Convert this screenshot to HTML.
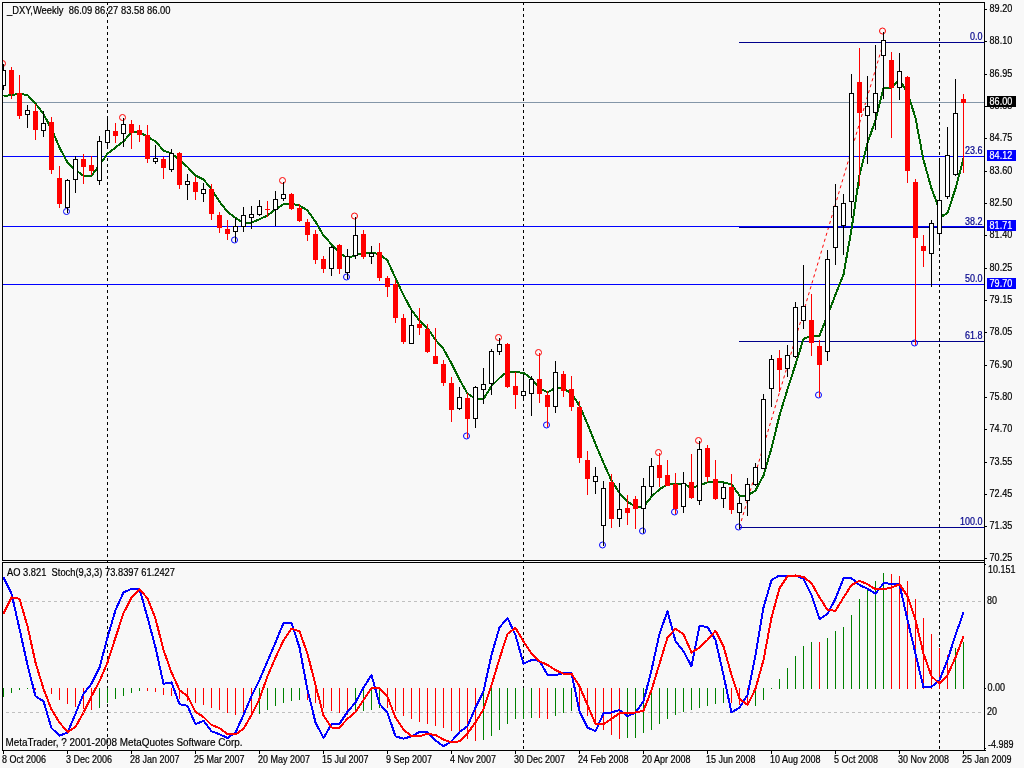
<!DOCTYPE html><html><head><meta charset="utf-8"><title>_DXY,Weekly</title>
<style>html,body{margin:0;padding:0;background:#F8F8F8;overflow:hidden}svg{display:block;will-change:transform}text{font-family:"Liberation Sans",Arial,sans-serif;font-size:9px;fill:#000;stroke:#000;stroke-width:.18px}.w{fill:#fff;stroke:#fff}.nv{fill:#00008B;stroke:#00008B}</style></head><body>
<svg width="1024" height="768" viewBox="0 0 1024 768">
<rect x="0" y="0" width="1024" height="768" fill="#F8F8F8"/>
<line x1="739.5" y1="527" x2="883.5" y2="42.5" stroke="#FF0000" stroke-width="1" stroke-dasharray="3.1 3.1"/>
<g shape-rendering="crispEdges">
<line x1="107.5" y1="2" x2="107.5" y2="751" stroke="#000" stroke-width="1" stroke-dasharray="3 3"/>
<line x1="523.5" y1="2" x2="523.5" y2="751" stroke="#000" stroke-width="1" stroke-dasharray="3 3"/>
<line x1="939.5" y1="2" x2="939.5" y2="751" stroke="#000" stroke-width="1" stroke-dasharray="3 3"/>
<rect x="3" y="102" width="981" height="1" fill="#8496A8"/>
<rect x="739" y="42" width="245" height="1" fill="#00008B"/>
<rect x="739" y="156" width="245" height="1" fill="#00008B"/>
<rect x="739" y="227" width="245" height="1" fill="#00008B"/>
<rect x="739" y="284" width="245" height="1" fill="#00008B"/>
<rect x="739" y="341" width="245" height="1" fill="#00008B"/>
<rect x="739" y="527" width="245" height="1" fill="#00008B"/>
<rect x="3" y="156" width="981" height="1" fill="#0000FF"/>
<rect x="3" y="226" width="981" height="1" fill="#0000FF"/>
<rect x="3" y="284" width="981" height="1" fill="#0000FF"/>
<line x1="0" y1="601.5" x2="984" y2="601.5" stroke="#C0C0C0" stroke-width="1" stroke-dasharray="3 3"/>
<line x1="0" y1="712.5" x2="984" y2="712.5" stroke="#C0C0C0" stroke-width="1" stroke-dasharray="3 3"/>
</g>
<polyline points="3.5,96.25 11.5,95 19.5,93.75 27.5,95 35.5,103.5 43.5,114 51.5,129 59.5,147.5 67.5,162.5 75.5,170 83.5,175.75 91.5,175.75 99.5,165 107.5,153.75 115.5,147.5 123.5,141.25 131.5,132.5 139.5,131.75 147.5,137 155.5,141.25 163.5,150.5 171.5,153.5 179.5,160 187.5,167 195.5,175.5 203.5,179.5 211.5,189 219.5,201.75 227.5,211.75 235.5,218 243.5,223 251.5,222.5 259.5,219.25 267.5,215.5 275.5,209.25 283.5,204.25 291.5,203.75 299.5,205.5 307.5,210.5 315.5,221.75 323.5,235.5 331.5,244.25 339.5,253 347.5,258 355.5,255.5 363.5,252.5 371.5,252.5 379.5,254.25 387.5,260.5 395.5,278.25 403.5,295 411.5,310 419.5,320.5 427.5,328.5 435.5,339.75 443.5,349 451.5,363.5 459.5,379.75 467.5,393.5 475.5,399 483.5,399 491.5,386 499.5,378 507.5,371.5 515.5,372.25 523.5,372.75 531.5,378.5 539.5,388.5 547.5,392.25 555.5,388 563.5,388.5 571.5,393.5 579.5,405.75 587.5,424 595.5,444 603.5,463 611.5,480.5 619.5,493 627.5,501.75 635.5,506.75 643.5,506.75 651.5,496.75 659.5,489.25 667.5,484.25 675.5,483.75 683.5,483.75 691.5,488 699.5,485.5 707.5,482.25 715.5,481.75 723.5,482.5 731.5,484.25 739.5,495.5 747.5,495.5 755.5,490.5 763.5,475.5 771.5,448 779.5,415.5 787.5,389.25 795.5,364.5 803.5,339 811.5,335.75 819.5,335.75 827.5,315.5 835.5,294.5 843.5,274.5 851.5,229.5 859.5,175 867.5,143 875.5,120 883.5,88 891.5,87.5 899.5,80 907.5,92.5 915.5,118 923.5,160 931.5,188.5 939.5,210 942.5,216 947.5,213 955.5,188.5 963.5,158.5" fill="none" stroke="#006400" stroke-width="2" stroke-linejoin="round" shape-rendering="crispEdges"/>
<circle cx="2.5" cy="63.5" r="3" fill="none" stroke="#FF0000" stroke-width="1"/>
<circle cx="122.5" cy="117.5" r="3" fill="none" stroke="#FF0000" stroke-width="1"/>
<circle cx="282.5" cy="180.5" r="3" fill="none" stroke="#FF0000" stroke-width="1"/>
<circle cx="354.5" cy="216" r="3" fill="none" stroke="#FF0000" stroke-width="1"/>
<circle cx="498.5" cy="337.5" r="3" fill="none" stroke="#FF0000" stroke-width="1"/>
<circle cx="538.5" cy="352.5" r="3" fill="none" stroke="#FF0000" stroke-width="1"/>
<circle cx="658.5" cy="452.5" r="3" fill="none" stroke="#FF0000" stroke-width="1"/>
<circle cx="698.5" cy="440.5" r="3" fill="none" stroke="#FF0000" stroke-width="1"/>
<circle cx="882.5" cy="31" r="3" fill="none" stroke="#FF0000" stroke-width="1"/>
<circle cx="66.5" cy="211.5" r="3" fill="none" stroke="#0000FF" stroke-width="1"/>
<circle cx="234.5" cy="240" r="3" fill="none" stroke="#0000FF" stroke-width="1"/>
<circle cx="346.5" cy="277" r="3" fill="none" stroke="#0000FF" stroke-width="1"/>
<circle cx="466.5" cy="436" r="3" fill="none" stroke="#0000FF" stroke-width="1"/>
<circle cx="546.5" cy="425" r="3" fill="none" stroke="#0000FF" stroke-width="1"/>
<circle cx="602.5" cy="545" r="3" fill="none" stroke="#0000FF" stroke-width="1"/>
<circle cx="642.5" cy="531" r="3" fill="none" stroke="#0000FF" stroke-width="1"/>
<circle cx="674.5" cy="512" r="3" fill="none" stroke="#0000FF" stroke-width="1"/>
<circle cx="738.5" cy="527" r="3" fill="none" stroke="#0000FF" stroke-width="1"/>
<circle cx="818.5" cy="395" r="3" fill="none" stroke="#0000FF" stroke-width="1"/>
<circle cx="914.5" cy="343" r="3" fill="none" stroke="#0000FF" stroke-width="1"/>
<g shape-rendering="crispEdges">
<rect x="3" y="64" width="1" height="26" fill="#000"/>
<rect x="1" y="70" width="5" height="16" fill="#000"/>
<rect x="2" y="71" width="3" height="14" fill="#fff"/>
<rect x="11" y="67" width="1" height="32" fill="#FF0000"/>
<rect x="9" y="70" width="5" height="24" fill="#FF0000"/>
<rect x="19" y="75" width="1" height="44" fill="#FF0000"/>
<rect x="17" y="93" width="5" height="23" fill="#FF0000"/>
<rect x="27" y="105" width="1" height="23" fill="#000"/>
<rect x="25" y="110" width="5" height="5" fill="#000"/>
<rect x="26" y="111" width="3" height="3" fill="#fff"/>
<rect x="35" y="104" width="1" height="36" fill="#FF0000"/>
<rect x="33" y="111" width="5" height="19" fill="#FF0000"/>
<rect x="43" y="111" width="1" height="26" fill="#000"/>
<rect x="41" y="123" width="5" height="8" fill="#000"/>
<rect x="42" y="124" width="3" height="6" fill="#fff"/>
<rect x="51" y="117" width="1" height="57" fill="#FF0000"/>
<rect x="49" y="122" width="5" height="48" fill="#FF0000"/>
<rect x="59" y="166" width="1" height="42" fill="#FF0000"/>
<rect x="57" y="178" width="5" height="26" fill="#FF0000"/>
<rect x="67" y="179" width="1" height="34" fill="#000"/>
<rect x="65" y="180" width="5" height="28" fill="#000"/>
<rect x="66" y="181" width="3" height="26" fill="#fff"/>
<rect x="75" y="156" width="1" height="37" fill="#000"/>
<rect x="73" y="159" width="5" height="21" fill="#000"/>
<rect x="74" y="160" width="3" height="19" fill="#fff"/>
<rect x="83" y="154" width="1" height="30" fill="#FF0000"/>
<rect x="81" y="159" width="5" height="8" fill="#FF0000"/>
<rect x="91" y="156" width="1" height="19" fill="#FF0000"/>
<rect x="89" y="165" width="5" height="6" fill="#FF0000"/>
<rect x="99" y="136" width="1" height="49" fill="#000"/>
<rect x="97" y="141" width="5" height="40" fill="#000"/>
<rect x="98" y="142" width="3" height="38" fill="#fff"/>
<rect x="107" y="116" width="1" height="33" fill="#000"/>
<rect x="105" y="130" width="5" height="13" fill="#000"/>
<rect x="106" y="131" width="3" height="11" fill="#fff"/>
<rect x="115" y="123" width="1" height="20" fill="#FF0000"/>
<rect x="113" y="131" width="5" height="5" fill="#FF0000"/>
<rect x="123" y="118" width="1" height="29" fill="#000"/>
<rect x="121" y="124" width="5" height="10" fill="#000"/>
<rect x="122" y="125" width="3" height="8" fill="#fff"/>
<rect x="131" y="120" width="1" height="29" fill="#FF0000"/>
<rect x="129" y="124" width="5" height="9" fill="#FF0000"/>
<rect x="139" y="125" width="1" height="17" fill="#FF0000"/>
<rect x="137" y="130" width="5" height="5" fill="#FF0000"/>
<rect x="147" y="125" width="1" height="38" fill="#FF0000"/>
<rect x="145" y="135" width="5" height="24" fill="#FF0000"/>
<rect x="155" y="145" width="1" height="19" fill="#000"/>
<rect x="153" y="158" width="5" height="4" fill="#000"/>
<rect x="154" y="159" width="3" height="2" fill="#fff"/>
<rect x="163" y="157" width="1" height="22" fill="#FF0000"/>
<rect x="161" y="159" width="5" height="9" fill="#FF0000"/>
<rect x="171" y="149" width="1" height="23" fill="#000"/>
<rect x="169" y="153" width="5" height="17" fill="#000"/>
<rect x="170" y="154" width="3" height="15" fill="#fff"/>
<rect x="179" y="152" width="1" height="37" fill="#FF0000"/>
<rect x="177" y="153" width="5" height="32" fill="#FF0000"/>
<rect x="187" y="174" width="1" height="26" fill="#000"/>
<rect x="185" y="181" width="5" height="4" fill="#000"/>
<rect x="186" y="182" width="3" height="2" fill="#fff"/>
<rect x="195" y="177" width="1" height="23" fill="#FF0000"/>
<rect x="193" y="182" width="5" height="10" fill="#FF0000"/>
<rect x="203" y="183" width="1" height="19" fill="#000"/>
<rect x="201" y="189" width="5" height="5" fill="#000"/>
<rect x="202" y="190" width="3" height="3" fill="#fff"/>
<rect x="211" y="184" width="1" height="36" fill="#FF0000"/>
<rect x="209" y="189" width="5" height="25" fill="#FF0000"/>
<rect x="219" y="212" width="1" height="21" fill="#FF0000"/>
<rect x="217" y="215" width="5" height="13" fill="#FF0000"/>
<rect x="227" y="220" width="1" height="20" fill="#FF0000"/>
<rect x="225" y="229" width="5" height="5" fill="#FF0000"/>
<rect x="235" y="218" width="1" height="24" fill="#000"/>
<rect x="233" y="226" width="5" height="6" fill="#000"/>
<rect x="234" y="227" width="3" height="4" fill="#fff"/>
<rect x="243" y="207" width="1" height="25" fill="#000"/>
<rect x="241" y="215" width="5" height="12" fill="#000"/>
<rect x="242" y="216" width="3" height="10" fill="#fff"/>
<rect x="251" y="206" width="1" height="23" fill="#000"/>
<rect x="249" y="214" width="5" height="4" fill="#000"/>
<rect x="250" y="215" width="3" height="2" fill="#fff"/>
<rect x="259" y="200" width="1" height="16" fill="#000"/>
<rect x="257" y="206" width="5" height="9" fill="#000"/>
<rect x="258" y="207" width="3" height="7" fill="#fff"/>
<rect x="267" y="201" width="1" height="16" fill="#FF0000"/>
<rect x="265" y="209" width="5" height="1" fill="#FF0000"/>
<rect x="275" y="191" width="1" height="35" fill="#000"/>
<rect x="273" y="199" width="5" height="11" fill="#000"/>
<rect x="274" y="200" width="3" height="9" fill="#fff"/>
<rect x="283" y="182" width="1" height="19" fill="#000"/>
<rect x="281" y="194" width="5" height="5" fill="#000"/>
<rect x="282" y="195" width="3" height="3" fill="#fff"/>
<rect x="291" y="193" width="1" height="17" fill="#FF0000"/>
<rect x="289" y="194" width="5" height="15" fill="#FF0000"/>
<rect x="299" y="204" width="1" height="18" fill="#FF0000"/>
<rect x="297" y="208" width="5" height="13" fill="#FF0000"/>
<rect x="307" y="219" width="1" height="22" fill="#FF0000"/>
<rect x="305" y="222" width="5" height="13" fill="#FF0000"/>
<rect x="315" y="230" width="1" height="34" fill="#FF0000"/>
<rect x="313" y="234" width="5" height="26" fill="#FF0000"/>
<rect x="323" y="256" width="1" height="17" fill="#FF0000"/>
<rect x="321" y="259" width="5" height="10" fill="#FF0000"/>
<rect x="331" y="246" width="1" height="30" fill="#000"/>
<rect x="329" y="247" width="5" height="22" fill="#000"/>
<rect x="330" y="248" width="3" height="20" fill="#fff"/>
<rect x="339" y="244" width="1" height="30" fill="#FF0000"/>
<rect x="337" y="245" width="5" height="24" fill="#FF0000"/>
<rect x="347" y="249" width="1" height="30" fill="#000"/>
<rect x="345" y="256" width="5" height="17" fill="#000"/>
<rect x="346" y="257" width="3" height="15" fill="#fff"/>
<rect x="355" y="217" width="1" height="42" fill="#000"/>
<rect x="353" y="235" width="5" height="21" fill="#000"/>
<rect x="354" y="236" width="3" height="19" fill="#fff"/>
<rect x="363" y="230" width="1" height="29" fill="#FF0000"/>
<rect x="361" y="234" width="5" height="23" fill="#FF0000"/>
<rect x="371" y="246" width="1" height="18" fill="#000"/>
<rect x="369" y="253" width="5" height="4" fill="#000"/>
<rect x="370" y="254" width="3" height="2" fill="#fff"/>
<rect x="379" y="243" width="1" height="38" fill="#FF0000"/>
<rect x="377" y="252" width="5" height="26" fill="#FF0000"/>
<rect x="387" y="276" width="1" height="21" fill="#FF0000"/>
<rect x="385" y="278" width="5" height="9" fill="#FF0000"/>
<rect x="395" y="280" width="1" height="43" fill="#FF0000"/>
<rect x="393" y="284" width="5" height="34" fill="#FF0000"/>
<rect x="403" y="314" width="1" height="30" fill="#FF0000"/>
<rect x="401" y="318" width="5" height="24" fill="#FF0000"/>
<rect x="411" y="310" width="1" height="34" fill="#000"/>
<rect x="409" y="325" width="5" height="19" fill="#000"/>
<rect x="410" y="326" width="3" height="17" fill="#fff"/>
<rect x="419" y="308" width="1" height="27" fill="#FF0000"/>
<rect x="417" y="324" width="5" height="4" fill="#FF0000"/>
<rect x="427" y="324" width="1" height="29" fill="#FF0000"/>
<rect x="425" y="329" width="5" height="23" fill="#FF0000"/>
<rect x="435" y="328" width="1" height="36" fill="#FF0000"/>
<rect x="433" y="356" width="5" height="8" fill="#FF0000"/>
<rect x="443" y="360" width="1" height="26" fill="#FF0000"/>
<rect x="441" y="364" width="5" height="19" fill="#FF0000"/>
<rect x="451" y="377" width="1" height="45" fill="#FF0000"/>
<rect x="449" y="383" width="5" height="27" fill="#FF0000"/>
<rect x="459" y="387" width="1" height="23" fill="#000"/>
<rect x="457" y="397" width="5" height="12" fill="#000"/>
<rect x="458" y="398" width="3" height="10" fill="#fff"/>
<rect x="467" y="393" width="1" height="45" fill="#FF0000"/>
<rect x="465" y="398" width="5" height="21" fill="#FF0000"/>
<rect x="475" y="386" width="1" height="42" fill="#000"/>
<rect x="473" y="387" width="5" height="32" fill="#000"/>
<rect x="474" y="388" width="3" height="30" fill="#fff"/>
<rect x="483" y="368" width="1" height="36" fill="#000"/>
<rect x="481" y="384" width="5" height="6" fill="#000"/>
<rect x="482" y="385" width="3" height="4" fill="#fff"/>
<rect x="491" y="349" width="1" height="46" fill="#000"/>
<rect x="489" y="351" width="5" height="33" fill="#000"/>
<rect x="490" y="352" width="3" height="31" fill="#fff"/>
<rect x="499" y="338" width="1" height="17" fill="#000"/>
<rect x="497" y="344" width="5" height="8" fill="#000"/>
<rect x="498" y="345" width="3" height="6" fill="#fff"/>
<rect x="507" y="343" width="1" height="45" fill="#FF0000"/>
<rect x="505" y="344" width="5" height="43" fill="#FF0000"/>
<rect x="515" y="372" width="1" height="37" fill="#FF0000"/>
<rect x="513" y="386" width="5" height="9" fill="#FF0000"/>
<rect x="523" y="374" width="1" height="27" fill="#000"/>
<rect x="521" y="391" width="5" height="5" fill="#000"/>
<rect x="522" y="392" width="3" height="3" fill="#fff"/>
<rect x="531" y="376" width="1" height="40" fill="#000"/>
<rect x="529" y="379" width="5" height="15" fill="#000"/>
<rect x="530" y="380" width="3" height="13" fill="#fff"/>
<rect x="539" y="353" width="1" height="50" fill="#FF0000"/>
<rect x="537" y="379" width="5" height="15" fill="#FF0000"/>
<rect x="547" y="391" width="1" height="36" fill="#FF0000"/>
<rect x="545" y="395" width="5" height="12" fill="#FF0000"/>
<rect x="555" y="361" width="1" height="52" fill="#000"/>
<rect x="553" y="372" width="5" height="35" fill="#000"/>
<rect x="554" y="373" width="3" height="33" fill="#fff"/>
<rect x="563" y="371" width="1" height="26" fill="#FF0000"/>
<rect x="561" y="374" width="5" height="17" fill="#FF0000"/>
<rect x="571" y="376" width="1" height="35" fill="#FF0000"/>
<rect x="569" y="389" width="5" height="18" fill="#FF0000"/>
<rect x="579" y="401" width="1" height="62" fill="#FF0000"/>
<rect x="577" y="407" width="5" height="51" fill="#FF0000"/>
<rect x="587" y="451" width="1" height="44" fill="#FF0000"/>
<rect x="585" y="460" width="5" height="19" fill="#FF0000"/>
<rect x="595" y="467" width="1" height="27" fill="#000"/>
<rect x="593" y="476" width="5" height="6" fill="#000"/>
<rect x="594" y="477" width="3" height="4" fill="#fff"/>
<rect x="603" y="481" width="1" height="65" fill="#000"/>
<rect x="601" y="488" width="5" height="38" fill="#000"/>
<rect x="602" y="489" width="3" height="36" fill="#fff"/>
<rect x="611" y="474" width="1" height="54" fill="#FF0000"/>
<rect x="609" y="482" width="5" height="37" fill="#FF0000"/>
<rect x="619" y="483" width="1" height="44" fill="#000"/>
<rect x="617" y="509" width="5" height="10" fill="#000"/>
<rect x="618" y="510" width="3" height="8" fill="#fff"/>
<rect x="627" y="495" width="1" height="30" fill="#FF0000"/>
<rect x="625" y="508" width="5" height="5" fill="#FF0000"/>
<rect x="635" y="496" width="1" height="33" fill="#FF0000"/>
<rect x="633" y="499" width="5" height="10" fill="#FF0000"/>
<rect x="643" y="478" width="1" height="55" fill="#000"/>
<rect x="641" y="486" width="5" height="23" fill="#000"/>
<rect x="642" y="487" width="3" height="21" fill="#fff"/>
<rect x="651" y="458" width="1" height="38" fill="#000"/>
<rect x="649" y="466" width="5" height="21" fill="#000"/>
<rect x="650" y="467" width="3" height="19" fill="#fff"/>
<rect x="659" y="453" width="1" height="34" fill="#FF0000"/>
<rect x="657" y="465" width="5" height="13" fill="#FF0000"/>
<rect x="667" y="460" width="1" height="26" fill="#FF0000"/>
<rect x="665" y="475" width="5" height="11" fill="#FF0000"/>
<rect x="675" y="473" width="1" height="41" fill="#FF0000"/>
<rect x="673" y="484" width="5" height="25" fill="#FF0000"/>
<rect x="683" y="472" width="1" height="41" fill="#000"/>
<rect x="681" y="483" width="5" height="24" fill="#000"/>
<rect x="682" y="484" width="3" height="22" fill="#fff"/>
<rect x="691" y="454" width="1" height="45" fill="#FF0000"/>
<rect x="689" y="482" width="5" height="16" fill="#FF0000"/>
<rect x="699" y="441" width="1" height="64" fill="#000"/>
<rect x="697" y="449" width="5" height="52" fill="#000"/>
<rect x="698" y="450" width="3" height="50" fill="#fff"/>
<rect x="707" y="445" width="1" height="37" fill="#FF0000"/>
<rect x="705" y="448" width="5" height="29" fill="#FF0000"/>
<rect x="715" y="460" width="1" height="40" fill="#FF0000"/>
<rect x="713" y="479" width="5" height="20" fill="#FF0000"/>
<rect x="723" y="483" width="1" height="25" fill="#000"/>
<rect x="721" y="487" width="5" height="12" fill="#000"/>
<rect x="722" y="488" width="3" height="10" fill="#fff"/>
<rect x="731" y="474" width="1" height="40" fill="#FF0000"/>
<rect x="729" y="487" width="5" height="23" fill="#FF0000"/>
<rect x="739" y="497" width="1" height="32" fill="#000"/>
<rect x="737" y="503" width="5" height="10" fill="#000"/>
<rect x="738" y="504" width="3" height="8" fill="#fff"/>
<rect x="747" y="478" width="1" height="38" fill="#000"/>
<rect x="745" y="484" width="5" height="17" fill="#000"/>
<rect x="746" y="485" width="3" height="15" fill="#fff"/>
<rect x="755" y="463" width="1" height="23" fill="#000"/>
<rect x="753" y="467" width="5" height="18" fill="#000"/>
<rect x="754" y="468" width="3" height="16" fill="#fff"/>
<rect x="763" y="394" width="1" height="75" fill="#000"/>
<rect x="761" y="399" width="5" height="70" fill="#000"/>
<rect x="762" y="400" width="3" height="68" fill="#fff"/>
<rect x="771" y="355" width="1" height="52" fill="#000"/>
<rect x="769" y="359" width="5" height="30" fill="#000"/>
<rect x="770" y="360" width="3" height="28" fill="#fff"/>
<rect x="779" y="350" width="1" height="42" fill="#FF0000"/>
<rect x="777" y="358" width="5" height="12" fill="#FF0000"/>
<rect x="787" y="345" width="1" height="32" fill="#000"/>
<rect x="785" y="355" width="5" height="14" fill="#000"/>
<rect x="786" y="356" width="3" height="12" fill="#fff"/>
<rect x="795" y="302" width="1" height="56" fill="#000"/>
<rect x="793" y="307" width="5" height="50" fill="#000"/>
<rect x="794" y="308" width="3" height="48" fill="#fff"/>
<rect x="803" y="265" width="1" height="64" fill="#000"/>
<rect x="801" y="306" width="5" height="15" fill="#000"/>
<rect x="802" y="307" width="3" height="13" fill="#fff"/>
<rect x="811" y="294" width="1" height="62" fill="#FF0000"/>
<rect x="809" y="320" width="5" height="23" fill="#FF0000"/>
<rect x="819" y="340" width="1" height="57" fill="#FF0000"/>
<rect x="817" y="346" width="5" height="19" fill="#FF0000"/>
<rect x="827" y="250" width="1" height="111" fill="#000"/>
<rect x="825" y="259" width="5" height="93" fill="#000"/>
<rect x="826" y="260" width="3" height="91" fill="#fff"/>
<rect x="835" y="184" width="1" height="81" fill="#000"/>
<rect x="833" y="206" width="5" height="42" fill="#000"/>
<rect x="834" y="207" width="3" height="40" fill="#fff"/>
<rect x="843" y="194" width="1" height="61" fill="#000"/>
<rect x="841" y="203" width="5" height="23" fill="#000"/>
<rect x="842" y="204" width="3" height="21" fill="#fff"/>
<rect x="851" y="74" width="1" height="144" fill="#000"/>
<rect x="849" y="93" width="5" height="109" fill="#000"/>
<rect x="850" y="94" width="3" height="107" fill="#fff"/>
<rect x="859" y="48" width="1" height="138" fill="#FF0000"/>
<rect x="857" y="82" width="5" height="31" fill="#FF0000"/>
<rect x="867" y="76" width="1" height="88" fill="#000"/>
<rect x="865" y="106" width="5" height="10" fill="#000"/>
<rect x="866" y="107" width="3" height="8" fill="#fff"/>
<rect x="875" y="45" width="1" height="85" fill="#000"/>
<rect x="873" y="93" width="5" height="20" fill="#000"/>
<rect x="874" y="94" width="3" height="18" fill="#fff"/>
<rect x="883" y="32" width="1" height="67" fill="#000"/>
<rect x="881" y="40" width="5" height="16" fill="#000"/>
<rect x="882" y="41" width="3" height="14" fill="#fff"/>
<rect x="891" y="52" width="1" height="86" fill="#FF0000"/>
<rect x="889" y="60" width="5" height="28" fill="#FF0000"/>
<rect x="899" y="53" width="1" height="47" fill="#000"/>
<rect x="897" y="71" width="5" height="17" fill="#000"/>
<rect x="898" y="72" width="3" height="15" fill="#fff"/>
<rect x="907" y="76" width="1" height="107" fill="#FF0000"/>
<rect x="905" y="77" width="5" height="94" fill="#FF0000"/>
<rect x="915" y="179" width="1" height="166" fill="#FF0000"/>
<rect x="913" y="182" width="5" height="56" fill="#FF0000"/>
<rect x="923" y="235" width="1" height="32" fill="#FF0000"/>
<rect x="921" y="246" width="5" height="5" fill="#FF0000"/>
<rect x="931" y="220" width="1" height="67" fill="#000"/>
<rect x="929" y="223" width="5" height="31" fill="#000"/>
<rect x="930" y="224" width="3" height="29" fill="#fff"/>
<rect x="939" y="158" width="1" height="85" fill="#000"/>
<rect x="937" y="200" width="5" height="34" fill="#000"/>
<rect x="938" y="201" width="3" height="32" fill="#fff"/>
<rect x="947" y="127" width="1" height="72" fill="#000"/>
<rect x="945" y="155" width="5" height="42" fill="#000"/>
<rect x="946" y="156" width="3" height="40" fill="#fff"/>
<rect x="955" y="79" width="1" height="97" fill="#000"/>
<rect x="953" y="113" width="5" height="62" fill="#000"/>
<rect x="954" y="114" width="3" height="60" fill="#fff"/>
<rect x="963" y="94" width="1" height="79" fill="#FF0000"/>
<rect x="961" y="99" width="5" height="4" fill="#FF0000"/>
<rect x="3" y="688" width="1" height="9" fill="#008000"/>
<rect x="11" y="688" width="1" height="5" fill="#008000"/>
<rect x="19" y="688" width="1" height="2" fill="#008000"/>
<rect x="27" y="688" width="1" height="1" fill="#008000"/>
<rect x="35" y="688" width="1" height="2" fill="#FF0000"/>
<rect x="43" y="688" width="1" height="2" fill="#FF0000"/>
<rect x="51" y="688" width="1" height="6" fill="#FF0000"/>
<rect x="59" y="688" width="1" height="12" fill="#FF0000"/>
<rect x="67" y="688" width="1" height="16" fill="#FF0000"/>
<rect x="75" y="688" width="1" height="19" fill="#FF0000"/>
<rect x="83" y="688" width="1" height="21" fill="#FF0000"/>
<rect x="91" y="688" width="1" height="22" fill="#FF0000"/>
<rect x="99" y="688" width="1" height="20" fill="#008000"/>
<rect x="107" y="688" width="1" height="15" fill="#008000"/>
<rect x="115" y="688" width="1" height="11" fill="#008000"/>
<rect x="123" y="688" width="1" height="8" fill="#008000"/>
<rect x="131" y="688" width="1" height="5" fill="#008000"/>
<rect x="139" y="688" width="1" height="3" fill="#008000"/>
<rect x="147" y="688" width="1" height="3" fill="#FF0000"/>
<rect x="155" y="688" width="1" height="4" fill="#FF0000"/>
<rect x="163" y="688" width="1" height="7" fill="#FF0000"/>
<rect x="171" y="688" width="1" height="8" fill="#FF0000"/>
<rect x="179" y="688" width="1" height="11" fill="#FF0000"/>
<rect x="187" y="688" width="1" height="13" fill="#FF0000"/>
<rect x="195" y="688" width="1" height="15" fill="#FF0000"/>
<rect x="203" y="688" width="1" height="17" fill="#FF0000"/>
<rect x="211" y="688" width="1" height="20" fill="#FF0000"/>
<rect x="219" y="688" width="1" height="22" fill="#FF0000"/>
<rect x="227" y="688" width="1" height="25" fill="#FF0000"/>
<rect x="235" y="688" width="1" height="27" fill="#FF0000"/>
<rect x="243" y="688" width="1" height="28" fill="#FF0000"/>
<rect x="251" y="688" width="1" height="25" fill="#FF0000"/>
<rect x="259" y="688" width="1" height="26" fill="#008000"/>
<rect x="267" y="688" width="1" height="22" fill="#008000"/>
<rect x="275" y="688" width="1" height="18" fill="#008000"/>
<rect x="283" y="688" width="1" height="15" fill="#008000"/>
<rect x="291" y="688" width="1" height="13" fill="#008000"/>
<rect x="299" y="688" width="1" height="12" fill="#008000"/>
<rect x="307" y="688" width="1" height="12" fill="#FF0000"/>
<rect x="315" y="688" width="1" height="15" fill="#FF0000"/>
<rect x="323" y="688" width="1" height="20" fill="#FF0000"/>
<rect x="331" y="688" width="1" height="23" fill="#FF0000"/>
<rect x="339" y="688" width="1" height="25" fill="#FF0000"/>
<rect x="347" y="688" width="1" height="27" fill="#FF0000"/>
<rect x="355" y="688" width="1" height="23" fill="#008000"/>
<rect x="363" y="688" width="1" height="23" fill="#008000"/>
<rect x="371" y="688" width="1" height="22" fill="#008000"/>
<rect x="379" y="688" width="1" height="20" fill="#008000"/>
<rect x="387" y="688" width="1" height="20" fill="#FF0000"/>
<rect x="395" y="688" width="1" height="23" fill="#FF0000"/>
<rect x="403" y="688" width="1" height="28" fill="#FF0000"/>
<rect x="411" y="688" width="1" height="31" fill="#FF0000"/>
<rect x="419" y="688" width="1" height="34" fill="#FF0000"/>
<rect x="427" y="688" width="1" height="36" fill="#FF0000"/>
<rect x="435" y="688" width="1" height="38" fill="#FF0000"/>
<rect x="443" y="688" width="1" height="40" fill="#FF0000"/>
<rect x="451" y="688" width="1" height="43" fill="#FF0000"/>
<rect x="459" y="688" width="1" height="45" fill="#FF0000"/>
<rect x="467" y="688" width="1" height="51" fill="#FF0000"/>
<rect x="475" y="688" width="1" height="53" fill="#FF0000"/>
<rect x="483" y="688" width="1" height="52" fill="#008000"/>
<rect x="491" y="688" width="1" height="48" fill="#008000"/>
<rect x="499" y="688" width="1" height="42" fill="#008000"/>
<rect x="507" y="688" width="1" height="36" fill="#008000"/>
<rect x="515" y="688" width="1" height="31" fill="#008000"/>
<rect x="523" y="688" width="1" height="31" fill="#008000"/>
<rect x="531" y="688" width="1" height="30" fill="#008000"/>
<rect x="539" y="688" width="1" height="30" fill="#FF0000"/>
<rect x="547" y="688" width="1" height="31" fill="#FF0000"/>
<rect x="555" y="688" width="1" height="28" fill="#008000"/>
<rect x="563" y="688" width="1" height="25" fill="#008000"/>
<rect x="571" y="688" width="1" height="23" fill="#008000"/>
<rect x="579" y="688" width="1" height="25" fill="#FF0000"/>
<rect x="587" y="688" width="1" height="28" fill="#FF0000"/>
<rect x="595" y="688" width="1" height="35" fill="#FF0000"/>
<rect x="603" y="688" width="1" height="42" fill="#FF0000"/>
<rect x="611" y="688" width="1" height="47" fill="#FF0000"/>
<rect x="619" y="688" width="1" height="51" fill="#FF0000"/>
<rect x="627" y="688" width="1" height="50" fill="#008000"/>
<rect x="635" y="688" width="1" height="50" fill="#008000"/>
<rect x="643" y="688" width="1" height="45" fill="#008000"/>
<rect x="651" y="688" width="1" height="42" fill="#008000"/>
<rect x="659" y="688" width="1" height="36" fill="#008000"/>
<rect x="667" y="688" width="1" height="31" fill="#008000"/>
<rect x="675" y="688" width="1" height="27" fill="#008000"/>
<rect x="683" y="688" width="1" height="24" fill="#008000"/>
<rect x="691" y="688" width="1" height="22" fill="#008000"/>
<rect x="699" y="688" width="1" height="20" fill="#008000"/>
<rect x="707" y="688" width="1" height="18" fill="#008000"/>
<rect x="715" y="688" width="1" height="16" fill="#008000"/>
<rect x="723" y="688" width="1" height="15" fill="#008000"/>
<rect x="731" y="688" width="1" height="15" fill="#FF0000"/>
<rect x="739" y="688" width="1" height="17" fill="#FF0000"/>
<rect x="747" y="688" width="1" height="17" fill="#FF0000"/>
<rect x="755" y="688" width="1" height="18" fill="#008000"/>
<rect x="763" y="688" width="1" height="12" fill="#008000"/>
<rect x="771" y="688" width="1" height="1" fill="#008000"/>
<rect x="779" y="679" width="1" height="10" fill="#008000"/>
<rect x="787" y="668" width="1" height="21" fill="#008000"/>
<rect x="795" y="656" width="1" height="33" fill="#008000"/>
<rect x="803" y="646" width="1" height="43" fill="#008000"/>
<rect x="811" y="642" width="1" height="47" fill="#008000"/>
<rect x="819" y="642" width="1" height="47" fill="#FF0000"/>
<rect x="827" y="638" width="1" height="51" fill="#008000"/>
<rect x="835" y="631" width="1" height="58" fill="#008000"/>
<rect x="843" y="627" width="1" height="62" fill="#008000"/>
<rect x="851" y="615" width="1" height="74" fill="#008000"/>
<rect x="859" y="599" width="1" height="90" fill="#008000"/>
<rect x="867" y="588" width="1" height="101" fill="#008000"/>
<rect x="875" y="581" width="1" height="108" fill="#008000"/>
<rect x="883" y="573" width="1" height="116" fill="#008000"/>
<rect x="891" y="574" width="1" height="115" fill="#FF0000"/>
<rect x="899" y="576" width="1" height="113" fill="#FF0000"/>
<rect x="907" y="581" width="1" height="108" fill="#FF0000"/>
<rect x="915" y="599" width="1" height="90" fill="#FF0000"/>
<rect x="923" y="618" width="1" height="71" fill="#FF0000"/>
<rect x="931" y="634" width="1" height="55" fill="#FF0000"/>
<rect x="939" y="648" width="1" height="41" fill="#FF0000"/>
<rect x="947" y="655" width="1" height="34" fill="#FF0000"/>
<rect x="955" y="648" width="1" height="41" fill="#008000"/>
<rect x="963" y="642" width="1" height="47" fill="#008000"/>
</g>
<polyline points="3.5,577.5 11.5,593.75 19.5,628.75 27.5,665 35.5,696.25 43.5,701.25 51.5,728 59.5,735.75 67.5,732.5 75.5,713.75 83.5,693.75 91.5,683.75 99.5,667.5 107.5,637.5 115.5,610 123.5,592.5 131.5,588.75 139.5,588.75 147.5,617.5 155.5,647.5 163.5,683.75 171.5,682.5 179.5,704.25 187.5,705.75 195.5,724.25 203.5,720.75 211.5,731.25 219.5,734.25 227.5,738 235.5,732.5 243.5,715 251.5,696.25 259.5,680 267.5,661.25 275.5,642.5 283.5,623 291.5,623 299.5,647.5 307.5,690 315.5,722.5 323.5,738 331.5,724.25 339.5,723.75 347.5,711.75 355.5,702.5 363.5,687.5 371.5,675 379.5,703.75 387.5,713 395.5,736.25 403.5,738.75 411.5,736.25 419.5,732 427.5,732 435.5,740.5 443.5,746.25 451.5,741.25 459.5,732 467.5,726.25 475.5,707.5 483.5,691.25 491.5,655 499.5,627.5 507.5,618 515.5,635 523.5,663.75 531.5,660 539.5,660.75 547.5,675 555.5,675 563.5,673.25 571.5,673.25 579.5,711.25 587.5,727.5 595.5,731.25 603.5,713.25 611.5,712.5 619.5,710 627.5,716.25 635.5,712.5 643.5,701.25 651.5,670 659.5,633.75 667.5,611.25 675.5,641.25 683.5,651.25 691.5,666.25 699.5,625.75 707.5,627 715.5,640 723.5,675 731.5,712.5 739.5,707.5 747.5,695 755.5,655 763.5,607.5 771.5,580 779.5,575.5 787.5,575.5 795.5,575.5 803.5,578.75 811.5,595 819.5,619.25 827.5,613.75 835.5,598.75 843.5,578.25 851.5,578.25 859.5,585 867.5,588.75 875.5,593.75 883.5,583.25 891.5,583.75 899.5,584.5 907.5,620 915.5,653.75 923.5,687.5 931.5,686.75 939.5,680 947.5,660 955.5,635 963.5,612.5" fill="none" stroke="#0000FF" stroke-width="2" stroke-linejoin="round" shape-rendering="crispEdges"/>
<polyline points="3.5,613.75 11.5,597.5 19.5,598.75 27.5,626.25 35.5,662.5 43.5,688.75 51.5,709.5 59.5,722.5 67.5,732 75.5,727 83.5,712.5 91.5,696.25 99.5,681.25 107.5,662.5 115.5,637.5 123.5,613.25 131.5,597.5 139.5,589.5 147.5,598.25 155.5,618.75 163.5,650 171.5,672.5 179.5,690 187.5,696.25 195.5,711.75 203.5,717 211.5,725 219.5,728 227.5,734.25 235.5,734.5 243.5,728.75 251.5,715 259.5,698.75 267.5,676.25 275.5,657.5 283.5,640.5 291.5,628.75 299.5,631.25 307.5,653.75 315.5,685 323.5,715.5 331.5,727.5 339.5,727.5 347.5,718.75 355.5,712 363.5,700 371.5,688.25 379.5,688.25 387.5,697 395.5,717.5 403.5,729.5 411.5,736.25 419.5,736.25 427.5,733.75 435.5,735 443.5,739.5 451.5,742.5 459.5,741.25 467.5,733.25 475.5,722.5 483.5,709.25 491.5,685 499.5,658.75 507.5,633.75 515.5,628 523.5,641.25 531.5,653.75 539.5,661.25 547.5,665 555.5,670 563.5,673.75 571.5,673.75 579.5,686.25 587.5,705 595.5,723.75 603.5,724.25 611.5,718.75 619.5,713.25 627.5,713 635.5,712.5 643.5,710.75 651.5,690 659.5,663.75 667.5,637.5 675.5,628.75 683.5,634.25 691.5,652.5 699.5,647.5 707.5,640 715.5,630.75 723.5,646.25 731.5,675 739.5,698.75 747.5,705 755.5,688.75 763.5,660 771.5,617.5 779.5,588.25 787.5,576.25 795.5,575.5 803.5,577 811.5,583 819.5,597.5 827.5,610 835.5,610.75 843.5,597.5 851.5,585 859.5,580.75 867.5,584.25 875.5,589.25 883.5,589.25 891.5,587.5 899.5,584.25 907.5,596.25 915.5,620 923.5,653.75 931.5,676.25 939.5,683.75 947.5,675 955.5,657.5 963.5,636.25" fill="none" stroke="#FF0000" stroke-width="2" stroke-linejoin="round" shape-rendering="crispEdges"/>
<g shape-rendering="crispEdges">
<rect x="0" y="0" width="2" height="768" fill="#F8F8F8"/>
<rect x="985" y="0" width="39" height="768" fill="#F8F8F8"/>
<rect x="2" y="2" width="983" height="1" fill="#000"/>
<rect x="2" y="2" width="1" height="559" fill="#000"/>
<rect x="2" y="560" width="983" height="1" fill="#000"/>
<rect x="984" y="2" width="1" height="749" fill="#000"/>
<rect x="2" y="562" width="983" height="1" fill="#000"/>
<rect x="2" y="562" width="1" height="189" fill="#000"/>
<rect x="2" y="750" width="984" height="1" fill="#000"/>
<rect x="985" y="9" width="2" height="1" fill="#000"/>
<rect x="985" y="41" width="2" height="1" fill="#000"/>
<rect x="985" y="74" width="2" height="1" fill="#000"/>
<rect x="985" y="106" width="2" height="1" fill="#000"/>
<rect x="985" y="138" width="2" height="1" fill="#000"/>
<rect x="985" y="171" width="2" height="1" fill="#000"/>
<rect x="985" y="203" width="2" height="1" fill="#000"/>
<rect x="985" y="235" width="2" height="1" fill="#000"/>
<rect x="985" y="268" width="2" height="1" fill="#000"/>
<rect x="985" y="300" width="2" height="1" fill="#000"/>
<rect x="985" y="332" width="2" height="1" fill="#000"/>
<rect x="985" y="365" width="2" height="1" fill="#000"/>
<rect x="985" y="397" width="2" height="1" fill="#000"/>
<rect x="985" y="429" width="2" height="1" fill="#000"/>
<rect x="985" y="462" width="2" height="1" fill="#000"/>
<rect x="985" y="494" width="2" height="1" fill="#000"/>
<rect x="985" y="526" width="2" height="1" fill="#000"/>
<rect x="985" y="558" width="2" height="1" fill="#000"/>
<rect x="985" y="564" width="1" height="1" fill="#000"/>
<rect x="985" y="688" width="1" height="1" fill="#000"/>
<rect x="985" y="748" width="1" height="1" fill="#000"/>
<rect x="3" y="751" width="1" height="3" fill="#000"/>
<rect x="67" y="751" width="1" height="3" fill="#000"/>
<rect x="131" y="751" width="1" height="3" fill="#000"/>
<rect x="195" y="751" width="1" height="3" fill="#000"/>
<rect x="259" y="751" width="1" height="3" fill="#000"/>
<rect x="323" y="751" width="1" height="3" fill="#000"/>
<rect x="387" y="751" width="1" height="3" fill="#000"/>
<rect x="451" y="751" width="1" height="3" fill="#000"/>
<rect x="515" y="751" width="1" height="3" fill="#000"/>
<rect x="579" y="751" width="1" height="3" fill="#000"/>
<rect x="643" y="751" width="1" height="3" fill="#000"/>
<rect x="707" y="751" width="1" height="3" fill="#000"/>
<rect x="771" y="751" width="1" height="3" fill="#000"/>
<rect x="835" y="751" width="1" height="3" fill="#000"/>
<rect x="899" y="751" width="1" height="3" fill="#000"/>
<rect x="963" y="751" width="1" height="3" fill="#000"/>
</g>
<text transform="translate(989.6 12) scale(1 1.12)" textLength="22.6" lengthAdjust="spacingAndGlyphs" xml:space="preserve">89.20</text>
<text transform="translate(989.6 44) scale(1 1.12)" textLength="22.6" lengthAdjust="spacingAndGlyphs" xml:space="preserve">88.10</text>
<text transform="translate(989.6 77) scale(1 1.12)" textLength="22.6" lengthAdjust="spacingAndGlyphs" xml:space="preserve">86.95</text>
<text transform="translate(989.6 109) scale(1 1.12)" textLength="22.6" lengthAdjust="spacingAndGlyphs" xml:space="preserve">85.85</text>
<text transform="translate(989.6 141) scale(1 1.12)" textLength="22.6" lengthAdjust="spacingAndGlyphs" xml:space="preserve">84.75</text>
<text transform="translate(989.6 174) scale(1 1.12)" textLength="22.6" lengthAdjust="spacingAndGlyphs" xml:space="preserve">83.60</text>
<text transform="translate(989.6 206) scale(1 1.12)" textLength="22.6" lengthAdjust="spacingAndGlyphs" xml:space="preserve">82.50</text>
<text transform="translate(989.6 238) scale(1 1.12)" textLength="22.6" lengthAdjust="spacingAndGlyphs" xml:space="preserve">81.40</text>
<text transform="translate(989.6 271) scale(1 1.12)" textLength="22.6" lengthAdjust="spacingAndGlyphs" xml:space="preserve">80.25</text>
<text transform="translate(989.6 303) scale(1 1.12)" textLength="22.6" lengthAdjust="spacingAndGlyphs" xml:space="preserve">79.15</text>
<text transform="translate(989.6 335) scale(1 1.12)" textLength="22.6" lengthAdjust="spacingAndGlyphs" xml:space="preserve">78.05</text>
<text transform="translate(989.6 368) scale(1 1.12)" textLength="22.6" lengthAdjust="spacingAndGlyphs" xml:space="preserve">76.90</text>
<text transform="translate(989.6 400) scale(1 1.12)" textLength="22.6" lengthAdjust="spacingAndGlyphs" xml:space="preserve">75.80</text>
<text transform="translate(989.6 432) scale(1 1.12)" textLength="22.6" lengthAdjust="spacingAndGlyphs" xml:space="preserve">74.70</text>
<text transform="translate(989.6 465) scale(1 1.12)" textLength="22.6" lengthAdjust="spacingAndGlyphs" xml:space="preserve">73.55</text>
<text transform="translate(989.6 497) scale(1 1.12)" textLength="22.6" lengthAdjust="spacingAndGlyphs" xml:space="preserve">72.45</text>
<text transform="translate(989.6 529) scale(1 1.12)" textLength="22.6" lengthAdjust="spacingAndGlyphs" xml:space="preserve">71.35</text>
<text transform="translate(989.6 561) scale(1 1.12)" textLength="22.6" lengthAdjust="spacingAndGlyphs" xml:space="preserve">70.25</text>
<g shape-rendering="crispEdges">
<rect x="987" y="96" width="29" height="11" fill="#000"/>
<rect x="987" y="150" width="29" height="11" fill="#0000FF"/>
<rect x="987" y="220" width="29" height="11" fill="#0000FF"/>
<rect x="987" y="278" width="29" height="11" fill="#0000FF"/>
</g>
<text transform="translate(989.6 105) scale(1 1.12)" class="w" textLength="22.6" lengthAdjust="spacingAndGlyphs" xml:space="preserve">86.00</text>
<text transform="translate(989.6 159) scale(1 1.12)" class="w" textLength="22.6" lengthAdjust="spacingAndGlyphs" xml:space="preserve">84.12</text>
<text transform="translate(989.6 229) scale(1 1.12)" class="w" textLength="22.6" lengthAdjust="spacingAndGlyphs" xml:space="preserve">81.71</text>
<text transform="translate(989.6 287) scale(1 1.12)" class="w" textLength="22.6" lengthAdjust="spacingAndGlyphs" xml:space="preserve">79.70</text>
<text transform="translate(982.5 40) scale(1 1.12)" class="nv" text-anchor="end" xml:space="preserve">0.0</text>
<text transform="translate(982.5 154) scale(1 1.12)" class="nv" text-anchor="end" xml:space="preserve">23.6</text>
<text transform="translate(982.5 225) scale(1 1.12)" class="nv" text-anchor="end" xml:space="preserve">38.2</text>
<text transform="translate(982.5 282) scale(1 1.12)" class="nv" text-anchor="end" xml:space="preserve">50.0</text>
<text transform="translate(982.5 339) scale(1 1.12)" class="nv" text-anchor="end" xml:space="preserve">61.8</text>
<text transform="translate(982.5 525) scale(1 1.12)" class="nv" text-anchor="end" xml:space="preserve">100.0</text>
<text transform="translate(7 14) scale(1 1.12)" textLength="163.5" lengthAdjust="spacingAndGlyphs" xml:space="preserve">_DXY,Weekly  86.09 86.27 83.58 86.00</text>
<text transform="translate(7 576) scale(1 1.12)" textLength="168" lengthAdjust="spacingAndGlyphs" xml:space="preserve">AO 3.821  Stoch(9,3,3) 73.8397 61.2427</text>
<text transform="translate(5.5 746) scale(1 1.04)" style="font-size:10px" textLength="237" lengthAdjust="spacingAndGlyphs" xml:space="preserve">MetaTrader, ? 2001-2008 MetaQuotes Software Corp.</text>
<text transform="translate(988 573) scale(1 1.12)" xml:space="preserve">10.151</text>
<text transform="translate(987 604) scale(1 1.12)" xml:space="preserve">80</text>
<text transform="translate(987.5 691) scale(1 1.12)" xml:space="preserve">0.00</text>
<text transform="translate(987 715) scale(1 1.12)" xml:space="preserve">20</text>
<text transform="translate(988 748) scale(1 1.12)" xml:space="preserve">-4.989</text>
<text transform="translate(2 763) scale(1 1.12)" xml:space="preserve">8 Oct 2006</text>
<text transform="translate(66 763) scale(1 1.12)" xml:space="preserve">3 Dec 2006</text>
<text transform="translate(130 763) scale(1 1.12)" xml:space="preserve">28 Jan 2007</text>
<text transform="translate(194 763) scale(1 1.12)" xml:space="preserve">25 Mar 2007</text>
<text transform="translate(258 763) scale(1 1.12)" xml:space="preserve">20 May 2007</text>
<text transform="translate(322 763) scale(1 1.12)" xml:space="preserve">15 Jul 2007</text>
<text transform="translate(386 763) scale(1 1.12)" xml:space="preserve">9 Sep 2007</text>
<text transform="translate(450 763) scale(1 1.12)" xml:space="preserve">4 Nov 2007</text>
<text transform="translate(514 763) scale(1 1.12)" xml:space="preserve">30 Dec 2007</text>
<text transform="translate(578 763) scale(1 1.12)" xml:space="preserve">24 Feb 2008</text>
<text transform="translate(642 763) scale(1 1.12)" xml:space="preserve">20 Apr 2008</text>
<text transform="translate(706 763) scale(1 1.12)" xml:space="preserve">15 Jun 2008</text>
<text transform="translate(770 763) scale(1 1.12)" xml:space="preserve">10 Aug 2008</text>
<text transform="translate(834 763) scale(1 1.12)" xml:space="preserve">5 Oct 2008</text>
<text transform="translate(898 763) scale(1 1.12)" xml:space="preserve">30 Nov 2008</text>
<text transform="translate(962 763) scale(1 1.12)" xml:space="preserve">25 Jan 2009</text>
</svg></body></html>
